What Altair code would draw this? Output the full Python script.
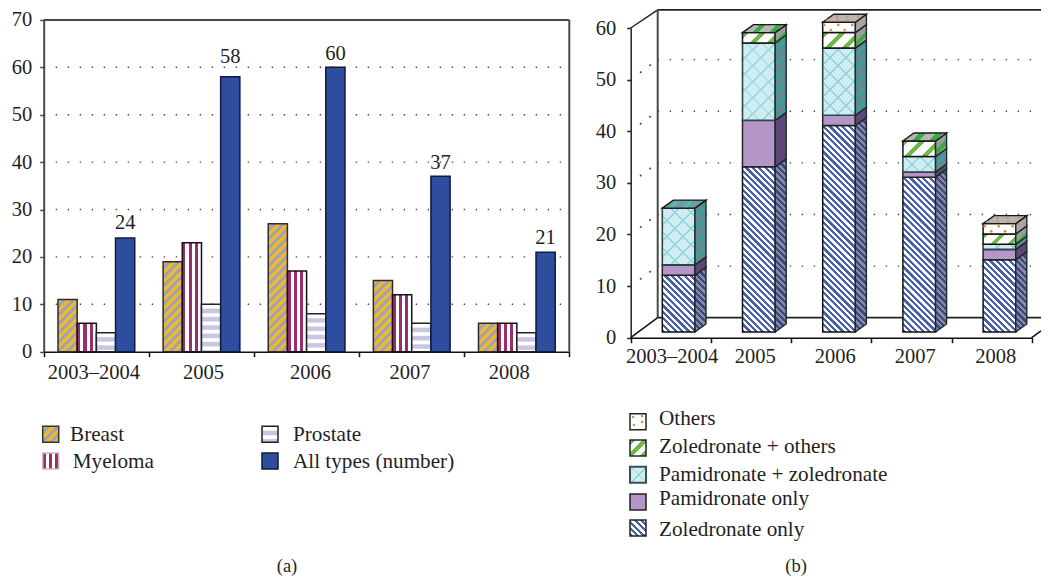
import altair as alt
import pandas as pd

# ---------- data ----------
years = ["2003–2004", "2005", "2006", "2007", "2008"]
breast = [11, 19, 27, 15, 6]
myeloma = [6, 23, 17, 12, 6]
prostate = [4, 10, 8, 6, 4]
all_types = [24, 58, 60, 37, 21]
label_lift = [9, 14, 7, 7, 8.5]

zoledronate_only = [11, 32, 40, 30, 14]
pamidronate_only = [2, 9, 2, 1, 2]
pamidronate_zoledronate = [11, 15, 13, 3, 1]
zoledronate_others = [0, 2, 3, 3, 2]
others = [0, 0, 2, 0, 2]

a_label_pos = [0.472, 1.516, 2.534, 3.479, 4.424]
b_label_pos = [0.511, 1.547, 2.544, 3.541, 4.545]

FONT = "Liberation Serif"
TXT = "#1f1f1f"
LEG = 21.2

# ---------- panel geometry (chart px, relative to each panel) ----------
W_A = 570
W_B = 464
H = 566
A_X = [35.7, 561.3]
A_Y = [342.7, 10.9]
B_X = [622.7 - W_A, 1023.7 - W_A]
B_Y = [328.7, 19.0]
A_PXU = (A_X[1] - A_X[0]) / 5
A_PYU = (A_Y[0] - A_Y[1]) / 70
B_PXU = (B_X[1] - B_X[0]) / 5
B_PYU = (B_Y[0] - B_Y[1]) / 60


def scale(rng, dom):
    return alt.Scale(domain=dom, range=rng, nice=False, zero=False)


def ax(panel):
    return scale(A_X, [0, 5]) if panel == "a" else scale(B_X, [0, 5])


def ay(panel):
    return scale(A_Y, [0, 70]) if panel == "a" else scale(B_Y, [0, 60])


def stripes(w, h, period, kind, c1, c2, frac=0.5, soft=0.0):
    """Repeating stripes as a hard-stop gradient, 45 degrees in pixel space."""
    if kind == "v":
        g = dict(x1=0, y1=0, x2=1, y2=0)
        length = w
    elif kind == "h":
        g = dict(x1=0, y1=0, x2=0, y2=1)
        length = h
    else:
        k = (w + h) / (w * w + h * h)
        length = w + h
        if kind == "/":
            g = dict(x1=0, y1=0, x2=w * k, y2=h * k)
        else:
            g = dict(x1=0, y1=1, x2=w * k, y2=1 - h * k)
    n = max(1, int(length / period) + 1)
    stops = []
    for i in range(n):
        s = i * period / length
        m = (i + frac) * period / length
        e = (i + 1) * period / length
        for off, col in [(s + soft * period / length, c1), (m, c1),
                         (m + soft * period / length, c2), (e, c2)]:
            if off <= 1:
                stops.append(dict(color=col, offset=round(off, 5)))
    return dict(gradient="linear", stops=stops, **g)


def rect(panel, x0, x1, y0, y1, fill, stroke="#111111", sw=1.5):
    df = pd.DataFrame({"x0": [x0], "x1": [x1], "y0": [y0], "y1": [y1]})
    kw = dict(fill=fill, strokeWidth=sw)
    if stroke:
        kw["stroke"] = stroke
    else:
        kw["strokeWidth"] = 0
    return alt.Chart(df).mark_rect(**kw).encode(
        x=alt.X("x0:Q", scale=ax(panel), axis=None),
        x2="x1:Q",
        y=alt.Y("y0:Q", scale=ay(panel), axis=None),
        y2="y1:Q",
    )


def poly(panel, xs, lows, highs, fill, stroke="#111111", sw=1.4):
    df = pd.DataFrame({"x": xs, "lo": lows, "hi": highs})
    return alt.Chart(df).mark_area(fill=fill, stroke=stroke, strokeWidth=sw, orient="vertical",
                                   interpolate="linear", opacity=1).encode(
        x=alt.X("x:Q", scale=ax(panel), axis=None),
        y=alt.Y("lo:Q", scale=ay(panel), axis=None),
        y2="hi:Q",
    )


def seg(panel, x0, y0, x1, y1, color, sw=1.5, dash=None):
    df = pd.DataFrame({"x0": [x0], "x1": [x1], "y0": [y0], "y1": [y1]})
    kw = dict(color=color, strokeWidth=sw)
    if dash:
        kw["strokeDash"] = dash
    return alt.Chart(df).mark_rule(**kw).encode(
        x=alt.X("x0:Q", scale=ax(panel), axis=None),
        x2="x1:Q",
        y=alt.Y("y0:Q", scale=ay(panel), axis=None),
        y2="y1:Q",
    )


def dots(panel, xs, ys, color, size=6):
    df = pd.DataFrame({"x": xs, "y": ys})
    return alt.Chart(df).mark_circle(color=color, size=size, opacity=1).encode(
        x=alt.X("x:Q", scale=ax(panel), axis=None),
        y=alt.Y("y:Q", scale=ay(panel), axis=None),
    )


def label(text, x, y, ox=0, size=LEG, align="left"):
    df = pd.DataFrame({"t": [text]})
    return alt.Chart(df).mark_text(font=FONT, fontSize=size, color=TXT, align=align,
                                   baseline="alphabetic").encode(
        x=alt.value(x - 8 - ox), y=alt.value(y - 8), text="t:N")


def key(x, y, fill, ox=0, stroke="#111111", sw=1.5, w=16, h=16):
    df = pd.DataFrame({"t": [0]})
    kw = dict(fill=fill, strokeWidth=sw)
    if stroke:
        kw["stroke"] = stroke
    else:
        kw["strokeWidth"] = 0
    return alt.Chart(df).mark_rect(**kw).encode(
        x=alt.value(x - 8 - ox), x2=alt.value(x - 8 - ox + w),
        y=alt.value(y - 8), y2=alt.value(y - 8 + h))


def y_axis_layer(panel, values, offset, **axis_kw):
    df = pd.DataFrame({"v": values})
    base = dict(values=values, offset=offset, title=None, grid=False, labelFont=FONT, labelFontSize=20.5,
                labelColor=TXT, labelOverlap=False, labelBound=False, labelFlush=False)
    base.update(axis_kw)
    return alt.Chart(df).mark_point(opacity=0, size=1).encode(
        y=alt.Y("v:Q", scale=ay(panel), axis=alt.Axis(**base)))


def x_axis_layer(panel, label_pos, offset, padding):
    # one axis: whole numbers are the ticks, fractional values carry the labels
    values = [0, 1, 2, 3, 4, 5] + label_pos
    df = pd.DataFrame({"v": values})
    expr = "datum.value % 1 == 0 ? '' : " + str(years) + "[floor(datum.value)]"
    axis = alt.Axis(values=values, offset=offset, title=None, grid=False, labelFont=FONT, labelFontSize=20.5,
                    labelColor=TXT, labelOverlap=False, labelBound=False, labelFlush=False,
                    labelExpr=expr, labelPadding=padding, domainColor="#111111", domainWidth=1.5,
                    tickColor="#111111", tickWidth=1.5, tickSize=5,
                    tickOpacity={"condition": {"test": "datum.value % 1 != 0", "value": 0}, "value": 1})
    return alt.Chart(df).mark_point(opacity=0, size=1).encode(
        x=alt.X("v:Q", scale=ax(panel), axis=axis))


# ---------- panel (a) ----------
la = []
for v in range(10, 70, 10):
    la.append(seg("a", 0, v, 5, v, "#444444", 1.4, [1.4, 10.6]))
la.append(seg("a", 0, 70, 5, 70, "#4a4a4a", 2))
la.append(seg("a", 5, 0, 5, 70, "#4a4a4a", 2))
la.append(y_axis_layer("a", list(range(0, 80, 10)), -35.7, domainColor="#4a4a4a", domainWidth=2,
                       tickColor="#4a4a4a", tickWidth=1.5, tickSize=4, labelPadding=8))
la.append(x_axis_layer("a", a_label_pos, -(H - A_Y[0]), 6))

BAR_A = 0.1825
START_A = 0.136
bw = BAR_A * A_PXU
GOLD, GRAYL = "#e9b92e", "#a39fbb"
MAG = "#992e6c"
LAV = "#c9c6e3"
BLUE = "#2e4d9f"
for i in range(5):
    x = i + START_A
    h = breast[i] * A_PYU
    la.append(rect("a", x, x + BAR_A, 0, breast[i], stripes(bw, h, 9, "/", GOLD, GRAYL), "#2c2c2c"))
    x += BAR_A
    h = myeloma[i] * A_PYU
    la.append(rect("a", x, x + BAR_A, 0, myeloma[i], stripes(bw, h, 6.3, "v", MAG, "#ffffff", 0.5), "#1c0f18"))
    x += BAR_A
    h = prostate[i] * A_PYU
    la.append(rect("a", x, x + BAR_A, 0, prostate[i],
                   stripes(bw, h, 8.3, "h", "#ffffff", LAV, 0.45, 0.15), "#222222"))
    x += BAR_A
    la.append(rect("a", x, x + BAR_A, 0, all_types[i], BLUE, "#0f1a3c"))
    df = pd.DataFrame({"x": [x + BAR_A / 2], "y": [all_types[i]], "t": [str(all_types[i])]})
    la.append(alt.Chart(df).mark_text(font=FONT, fontSize=20.5, color=TXT, baseline="alphabetic",
                                      dy=-label_lift[i]).encode(
        x=alt.X("x:Q", scale=ax("a"), axis=None),
        y=alt.Y("y:Q", scale=ay("a"), axis=None),
        text="t:N"))

# legend (a)
la.append(key(42.7, 425.3, stripes(16, 16, 9, "/", GOLD, GRAYL), 0, "#333333"))
la.append(label("Breast", 70, 439.5))
la.append(key(42.7, 452, stripes(16, 16, 6.3, "v", MAG, "#ffffff"), 0, "#cbb9c5"))
la.append(label("Myeloma", 72.7, 466.5))
la.append(key(262, 425.3, stripes(16, 16, 8.3, "h", "#ffffff", LAV, 0.45, 0.15), 0, "#222222"))
la.append(label("Prostate", 293, 439.5))
la.append(key(262, 452, BLUE, 0, "#0f1a3c"))
la.append(label("All types (number)", 293, 466.5))
la.append(label("(a)", 287, 571, 0, 18.5, "center"))

# ---------- panel (b) ----------
lb = []
DEPTH_X = 27 / B_PXU
DEPTH_Y = 20 / B_PYU
TOP_Y = 63.5
RIGHT = (W_B - 1 - B_X[0]) / B_PXU
for v in range(10, 60, 10):
    lb.append(seg("b", DEPTH_X, v + DEPTH_Y, RIGHT, v + DEPTH_Y, "#444444", 1.4, [1.4, 10.6]))
    lb.append(dots("b", [DEPTH_X * 0.37, DEPTH_X * 0.72],
                   [v + DEPTH_Y * 0.37, v + DEPTH_Y * 0.72], "#444444", 4))
# walls and floor
lb.append(seg("b", 0, 60, DEPTH_X, TOP_Y, "#222222", 1.5))
lb.append(seg("b", DEPTH_X, TOP_Y, RIGHT, TOP_Y, "#222222", 1.8))
lb.append(seg("b", DEPTH_X, DEPTH_Y, DEPTH_X, TOP_Y, "#4a4a4a", 2))
lb.append(seg("b", DEPTH_X, DEPTH_Y, RIGHT, DEPTH_Y, "#222222", 1.8))
lb.append(seg("b", 0, 0, DEPTH_X, DEPTH_Y, "#111111", 1.5))
lb.append(seg("b", 5, 0, RIGHT, DEPTH_Y * (RIGHT - 5) / DEPTH_X, "#111111", 1.5))
lb.append(y_axis_layer("b", list(range(0, 70, 10)), -B_X[0], domainColor="#222222", domainWidth=1.5,
                       tickColor="#222222", tickWidth=1.5, tickSize=4, labelPadding=11))
lb.append(x_axis_layer("b", b_label_pos, -(H - B_Y[0]), 4))

START_B = 0.394
BAR_B = 0.4075
BASE = 1.105
DX = 11 / B_PXU
DY = 8 / B_PYU
bwb = BAR_B * B_PXU
dw = 11.0
Z_BLUE, Z_SIDE1, Z_SIDE2 = "#4a62ae", "#3a4789", "#8c8c9c"
PUR, PUR_S = "#b497c6", "#5f4679"
CY, CY_L = "#cfecf1", "#8ed3de"
CY_S, CY_SL = "#5f8b8c", "#2ea6ad"
GRN = "#6dbb45"
GRY = "#b6b6b6"
ORG = "#e9844f"
Z_PERIOD = 6.4
segments = [
    ("z", zoledronate_only), ("p", pamidronate_only), ("pz", pamidronate_zoledronate),
    ("zo", zoledronate_others), ("o", others),
]


def side_fill(kind, h):
    HH = h + 8
    if kind == "z":
        return stripes(dw, HH, Z_PERIOD, "\\", Z_SIDE1, Z_SIDE2)
    if kind == "p":
        return PUR_S
    if kind == "pz":
        return stripes(dw, HH, 14, "/", CY_SL, CY_S, 0.25)
    if kind == "zo":
        return stripes(dw, HH, 17, "/", "#3da844", "#9c9c9c", 0.35)
    return "#a8a8a8"


def top_fill(kind):
    w = bwb + dw
    if kind == "pz":
        return stripes(w, 8, 14, "/", "#55b9bb", "#6f9c9c", 0.3)
    if kind == "zo":
        return stripes(w, 8, 17, "/", "#3da844", GRY, 0.4)
    return GRY


for i in range(5):
    x0 = i + START_B
    x1 = x0 + BAR_B
    base = BASE
    parts = [(k, vals[i]) for k, vals in segments if vals[i] > 0]
    for n, (kind, val) in enumerate(parts):
        top = base + val
        h = val * B_PYU
        if kind == "z":
            lb.append(rect("b", x0, x1, base, top, stripes(bwb, h, Z_PERIOD, "\\", Z_BLUE, "#ffffff", 0.5), "#111111"))
        elif kind == "p":
            lb.append(rect("b", x0, x1, base, top, PUR, "#222222"))
        elif kind == "pz":
            lb.append(rect("b", x0, x1, base, top, stripes(bwb, h, 16, "/", CY_L, CY, 0.11), None))
            lb.append(rect("b", x0, x1, base, top,
                           stripes(bwb, h, 16, "\\", CY_L, "rgba(207,236,241,0)", 0.11), "#2d4748", 1.6))
        elif kind == "zo":
            lb.append(rect("b", x0, x1, base, top, stripes(bwb, max(h, 1), 17, "/", GRN, "#ffffff", 0.35),
                           "#111111"))
        else:
            lb.append(rect("b", x0, x1, base, top, "#ffffff", "#111111"))
            xs, ys = [], []
            for r, yy in enumerate([base + val * 0.25, base + val * 0.75]):
                xx = x0 + (0.02 if r else 0.1)
                while xx < x1 - 0.005:
                    xs.append(xx)
                    ys.append(yy)
                    xx += 0.174
            lb.append(dots("b", xs, ys, ORG, 7))
        lb.append(poly("b", [x1, x1 + DX], [base, base + DY], [top, top + DY], side_fill(kind, h), "#1a2a2a"))
        if kind == "o":
            lb.append(dots("b", [x1 + DX * 0.3, x1 + DX * 0.75],
                           [base + val * 0.7 + DY * 0.3, base + val * 0.4 + DY * 0.75], ORG, 5))
        if n == len(parts) - 1:
            lb.append(poly("b", [x0, x0 + DX, x1, x1 + DX], [top, top, top, top + DY],
                           [top, top + DY, top + DY, top + DY], top_fill(kind), "#1a1a1a"))
            if kind == "o":
                us = [0.2, 0.52, 0.84, 0.05, 0.36, 0.68]
                vs = [0.72, 0.72, 0.72, 0.25, 0.25, 0.25]
                lb.append(dots("b", [x0 + u * BAR_B + v * DX for u, v in zip(us, vs)],
                               [top + v * DY for v in vs], ORG, 6))
        base = top


def page_to_b(px, py):
    return (px - 8 - W_A - B_X[0]) / B_PXU, (B_Y[0] - (py - 8)) / B_PYU


# legend (b)
lb.append(key(630, 412.7, "#ffffff", W_A, "#222222"))
key_dots = [page_to_b(px, py) for px, py in [(633, 416), (642, 415), (634, 424), (642, 421)]]
lb.append(dots("b", [d[0] for d in key_dots], [d[1] for d in key_dots], ORG, 6))
lb.append(label("Others", 659, 424.2, W_A))
lb.append(key(630, 439, stripes(16, 16, 13, "/", GRN, "#ffffff", 0.4), W_A, "#222222"))
lb.append(label("Zoledronate + others", 659, 452.2, W_A))
lb.append(key(630, 465.7, stripes(16, 16, 16, "/", CY_L, CY, 0.1), W_A, None))
lb.append(key(630, 465.7, stripes(16, 16, 16, "\\", CY_L, "rgba(207,236,241,0)", 0.1), W_A, "#3c4f50", 2))
lb.append(label("Pamidronate + zoledronate", 659, 480.2, W_A))
lb.append(key(630, 493, PUR, W_A, "#222222"))
lb.append(label("Pamidronate only", 659, 504.2, W_A))
lb.append(key(630, 519, stripes(16, 16, Z_PERIOD, "\\", Z_BLUE, "#ffffff"), W_A, "#222222"))
lb.append(label("Zoledronate only", 659, 534.5, W_A))
lb.append(label("(b)", 796, 571, W_A, 18.5, "center"))

panel_a = alt.layer(*la).resolve_axis(x="independent", y="independent").properties(width=W_A, height=H)
panel_b = alt.layer(*lb).resolve_axis(x="independent", y="independent").properties(width=W_B, height=H)

chart = alt.hconcat(panel_a, panel_b, spacing=0, bounds="flush").properties(
    padding=0,
).configure_view(stroke=None)

chart.save("out.html", embed_options={"renderer": "svg", "actions": False})
